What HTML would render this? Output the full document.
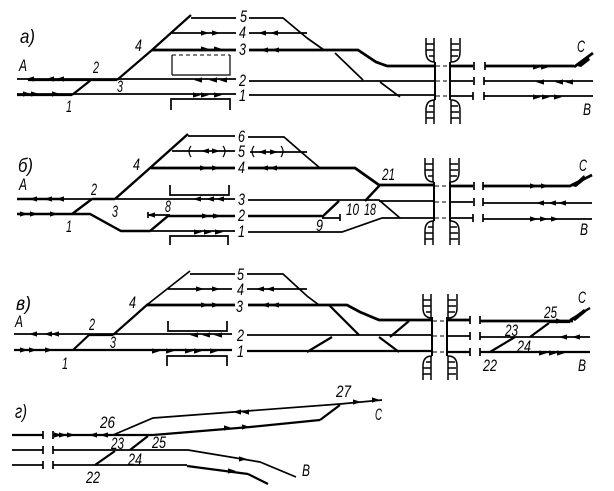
<!DOCTYPE html>
<html><head><meta charset="utf-8"><style>
html,body{margin:0;padding:0;background:#fff}
svg{display:block}
text{font-family:"Liberation Sans",sans-serif;font-style:italic;font-size:16.5px;fill:#000}
.a{stroke:#000;stroke-width:1.7;fill:none}
.b{stroke:#000;stroke-width:2.8;fill:none}
.c{stroke:#000;stroke-width:1.2;fill:none}
.d{stroke:#000;stroke-width:1.1;fill:none;stroke-dasharray:4 3}
</style></head><body>
<svg width="614" height="491" viewBox="0 0 614 491" xmlns="http://www.w3.org/2000/svg">
<defs>
<path id="r" d="M-4,-2.6L4,0L-4,2.6Z"/>
<path id="l" d="M4,-2.6L-4,0L4,2.6Z"/>
<g id="ut" fill="none" stroke="#000" stroke-width="1.5">
<path d="M-9,0V14Q-9,24 0,24"/><path d="M-9,6H-1M-9,12H-1M-6,18H-1M-1,0V24"/>
<path d="M16,0V24M16,24Q25,24 25,14V0M16,6H24M16,12H24M16,18H23"/>
</g>
<g id="dt" fill="none" stroke="#000" stroke-width="1.5">
<path d="M-9,24V10Q-9,0 0,0"/><path d="M-9,18H-1M-9,12H-1M-6,6H-1M-1,0V24"/>
<path d="M16,0V24M16,0Q25,0 25,10V24M16,18H24M16,12H24M16,6H23"/>
</g>
</defs>

<!-- a -->
<g>
<path class="a" d="M191,18H236M249,18H283L307,38M172,33H236M249,33H307M307,38L324,50"/>
<path class="b" d="M152,50H236M249,50H358L376,62L387,66H435M451,66H473M485,66H574M574,67L593,53"/>
<path class="b" style="stroke-width:2.2" d="M28,80H117M17,95H72M72,95L91,80M117,80L152,50L191,15"/>
<path class="a" d="M17,79H236M249,81H435M451,81H473M484,81H593M17,94H236M249,95H435M451,96H473M484,96H593"/>
<path class="a" d="M335,53L363,80M380,82L400,97" />
<path class="a" d="M474,62V70M474,77V85M473,92V100M485,62V70M484,77V85M484,92V100"/>
<path class="c" d="M172,75V55M172,75H230V55"/><path class="d" d="M172,55H230"/>
<path class="a" d="M171,110V99H230V110"/>
<path class="a" style="stroke-width:2" d="M435,62V100M450,62V100"/>
<path class="d" d="M436,66H449M436,81H449M436,96H449"/>
<use href="#ut" x="435" y="38"/><use href="#dt" x="435" y="100"/>
<g>
<use href="#l" x="30" y="79"/><use href="#l" x="50" y="79"/><use href="#l" x="60" y="79"/>
<use href="#r" x="27" y="94"/><use href="#r" x="35" y="94"/><use href="#r" x="56" y="94"/>
<use href="#r" x="205" y="33"/><use href="#r" x="216" y="33"/><use href="#l" x="262" y="33"/><use href="#l" x="274" y="33"/>
<use href="#r" x="205" y="49"/><use href="#r" x="218" y="49"/><use href="#l" x="264" y="50"/><use href="#l" x="275" y="50"/>
<use href="#l" x="198" y="80"/><use href="#l" x="213" y="80"/><use href="#l" x="223" y="80"/>
<use href="#r" x="197" y="95"/><use href="#r" x="205" y="95"/><use href="#r" x="218" y="95"/>
<use href="#r" x="537" y="67"/><use href="#r" x="545" y="67"/>
<use href="#l" x="540" y="82"/><use href="#l" x="559" y="82"/><use href="#l" x="569" y="82"/>
<use href="#r" x="537" y="97"/><use href="#r" x="546" y="97"/><use href="#r" x="558" y="97"/>
<path d="M577,66L588,56L590,60L581,67Z"/>
</g>
<text x="20" y="43" textLength="15" lengthAdjust="spacingAndGlyphs" style="font-size:19px">а)</text>
<text x="19" y="71" textLength="8" lengthAdjust="spacingAndGlyphs">А</text>
<text x="93" y="73" textLength="6" lengthAdjust="spacingAndGlyphs">2</text>
<text x="117" y="92" textLength="6" lengthAdjust="spacingAndGlyphs">3</text>
<text x="66" y="112" textLength="6" lengthAdjust="spacingAndGlyphs">1</text>
<text x="135" y="51" textLength="7" lengthAdjust="spacingAndGlyphs">4</text>
<text x="240" y="22" textLength="7" lengthAdjust="spacingAndGlyphs">5</text>
<text x="239" y="38" textLength="7" lengthAdjust="spacingAndGlyphs">4</text>
<text x="239" y="55" textLength="7" lengthAdjust="spacingAndGlyphs">3</text>
<text x="239" y="86" textLength="7" lengthAdjust="spacingAndGlyphs">2</text>
<text x="239" y="101" textLength="7" lengthAdjust="spacingAndGlyphs">1</text>
<text x="577" y="52" textLength="8" lengthAdjust="spacingAndGlyphs">С</text>
<text x="583" y="115" textLength="8" lengthAdjust="spacingAndGlyphs">В</text>
</g>

<!-- b -->
<g>
<path class="a" d="M188,136H235M248,137H284L307,157L320,168M172,151H235M250,152H307"/>
<path class="b" d="M151,168H235M248,168H355L379,185H435M451,186H473M483,186H570L592,175"/>
<path class="a" d="M17,199H235M248,200H379L400,218M379,201H435M451,202H473M483,203H592"/>
<path class="b" style="stroke-width:2.4" d="M17,214H90L121,231H150L168,216H235M248,216H322M322,217L339,201M92,199H115M72,214L92,199M115,199L150,168L188,134M380,185L365,201M17,199H60"/>
<path class="a" d="M148,215H170M322,218H340M121,231H235M248,232H342L382,218H435M451,218H473M483,219H592"/>
<path class="a" d="M148,212V218M340,214V221M474,182V190M474,198V206M473,214V222M483,182V190M483,198V206M483,214V222"/>
<path class="a" d="M170,185V195H229V185M170,245V236H228V245"/>
<path class="c" d="M191,146Q187,151 191,157M223,146Q227,151 223,157M254,146Q250,151 254,157M281,146Q285,151 281,157"/>
<path class="a" style="stroke-width:2" d="M434,182V221M450,182V221"/>
<path class="d" d="M435,186H449M435,202H449M435,218H449"/>
<use href="#ut" x="434" y="158"/><use href="#dt" x="434" y="221"/>
<g>
<use href="#r" x="24" y="214"/><use href="#r" x="34" y="214"/><use href="#r" x="54" y="214"/>
<use href="#l" x="33" y="199"/><use href="#l" x="48" y="199"/><use href="#l" x="60" y="199"/>
<use href="#l" x="205" y="151"/><use href="#r" x="216" y="151"/><use href="#l" x="262" y="152"/><use href="#r" x="274" y="152"/>
<use href="#r" x="204" y="168"/><use href="#r" x="216" y="168"/><use href="#l" x="264" y="168"/><use href="#l" x="273" y="168"/>
<use href="#l" x="197" y="199"/><use href="#l" x="210" y="199"/><use href="#l" x="220" y="199"/>
<use href="#r" x="206" y="216"/><use href="#r" x="217" y="216"/><use href="#l" x="151" y="215"/>
<use href="#r" x="198" y="232"/><use href="#r" x="208" y="232"/><use href="#r" x="219" y="232"/>
<use href="#r" x="534" y="186"/><use href="#r" x="545" y="186"/>
<use href="#l" x="540" y="203"/><use href="#l" x="552" y="203"/><use href="#l" x="562" y="203"/>
<use href="#r" x="534" y="219"/><use href="#r" x="544" y="219"/><use href="#r" x="555" y="219"/>
<path d="M572,186L584,175L586,179L576,187Z"/>
</g>
<text x="18" y="172" textLength="15" lengthAdjust="spacingAndGlyphs" style="font-size:19px">б)</text>
<text x="19" y="190" textLength="8" lengthAdjust="spacingAndGlyphs">А</text>
<text x="91" y="195" textLength="6" lengthAdjust="spacingAndGlyphs">2</text>
<text x="112" y="217" textLength="6" lengthAdjust="spacingAndGlyphs">3</text>
<text x="66" y="232" textLength="6" lengthAdjust="spacingAndGlyphs">1</text>
<text x="133" y="170" textLength="7" lengthAdjust="spacingAndGlyphs">4</text>
<text x="165" y="212" textLength="6" lengthAdjust="spacingAndGlyphs">8</text>
<text x="238" y="142" textLength="7" lengthAdjust="spacingAndGlyphs">6</text>
<text x="238" y="157" textLength="7" lengthAdjust="spacingAndGlyphs">5</text>
<text x="238" y="173" textLength="7" lengthAdjust="spacingAndGlyphs">4</text>
<text x="238" y="205" textLength="7" lengthAdjust="spacingAndGlyphs">3</text>
<text x="238" y="221" textLength="7" lengthAdjust="spacingAndGlyphs">2</text>
<text x="238" y="237" textLength="7" lengthAdjust="spacingAndGlyphs">1</text>
<text x="316" y="231" textLength="7" lengthAdjust="spacingAndGlyphs">9</text>
<text x="346" y="215" textLength="13" lengthAdjust="spacingAndGlyphs">10</text>
<text x="364" y="215" textLength="12" lengthAdjust="spacingAndGlyphs">18</text>
<text x="382" y="180" textLength="13" lengthAdjust="spacingAndGlyphs">21</text>
<text x="579" y="171" textLength="8" lengthAdjust="spacingAndGlyphs">С</text>
<text x="580" y="235" textLength="8" lengthAdjust="spacingAndGlyphs">В</text>
</g>

<!-- v -->
<g>
<path class="a" d="M190,274H235M247,274H283L307,296L319,305M168,289H232M247,289H307"/>
<path class="b" d="M147,305H235M248,305H347L360,312L379,320H432M447,320H470M480,321H573"/>
<path class="b" style="stroke-width:2.2" d="M73,350L89,335M89,335H113M113,335L148,304M329,305L359,335M379,337L399,352M307,352L332,337M390,337L409,321M490,352L515,337M530,337L549,323"/>
<path class="a" d="M148,304L190,271M14,334H232M247,335H432M447,336H470M480,337H590"/>
<path class="b" style="stroke-width:2.2" d="M14,350H232M247,351H432M447,352H470M480,352H590M549,322H570M570,320L590,308"/>
<path class="a" d="M470,316V324M470,332V340M470,348V356M480,316V324M480,332V340M480,348V356"/>
<path class="a" d="M168,321V331H227V321M167,366V356H227V366"/>
<path class="a" style="stroke-width:2" d="M432,317V356M447,317V356"/>
<path class="d" d="M433,321H446M433,336H446M433,352H446"/>
<use href="#ut" x="432" y="294"/><use href="#dt" x="432" y="356"/>
<g>
<use href="#l" x="33" y="334"/><use href="#l" x="48" y="334"/><use href="#l" x="55" y="334"/>
<use href="#r" x="24" y="350"/><use href="#r" x="33" y="350"/><use href="#r" x="49" y="350"/>
<use href="#r" x="200" y="289"/><use href="#r" x="216" y="289"/><use href="#l" x="260" y="289"/><use href="#l" x="270" y="289"/>
<use href="#r" x="205" y="305"/><use href="#r" x="216" y="305"/><use href="#l" x="265" y="305"/><use href="#l" x="275" y="305"/>
<use href="#l" x="194" y="335"/><use href="#l" x="206" y="335"/><use href="#l" x="218" y="335"/>
<use href="#r" x="156" y="351"/><use href="#r" x="170" y="351"/><use href="#r" x="189" y="351"/><use href="#r" x="198" y="351"/><use href="#r" x="214" y="351"/>
<use href="#r" x="560" y="321"/>
<use href="#l" x="563" y="337"/><use href="#l" x="576" y="337"/>
<use href="#r" x="543" y="353"/><use href="#r" x="553" y="353"/><use href="#r" x="561" y="353"/>
<path d="M571,319L584,309L586,312L575,321Z"/>
</g>
<text x="16" y="310" textLength="15" lengthAdjust="spacingAndGlyphs" style="font-size:19px">в)</text>
<text x="15" y="327" textLength="8" lengthAdjust="spacingAndGlyphs">А</text>
<text x="89" y="330" textLength="6" lengthAdjust="spacingAndGlyphs">2</text>
<text x="110" y="348" textLength="6" lengthAdjust="spacingAndGlyphs">3</text>
<text x="62" y="369" textLength="6" lengthAdjust="spacingAndGlyphs">1</text>
<text x="129" y="308" textLength="7" lengthAdjust="spacingAndGlyphs">4</text>
<text x="237" y="280" textLength="7" lengthAdjust="spacingAndGlyphs">5</text>
<text x="237" y="295" textLength="7" lengthAdjust="spacingAndGlyphs">4</text>
<text x="236" y="312" textLength="7" lengthAdjust="spacingAndGlyphs">3</text>
<text x="237" y="341" textLength="7" lengthAdjust="spacingAndGlyphs">2</text>
<text x="237" y="357" textLength="7" lengthAdjust="spacingAndGlyphs">1</text>
<text x="544" y="318" textLength="13" lengthAdjust="spacingAndGlyphs">25</text>
<text x="505" y="336" textLength="13" lengthAdjust="spacingAndGlyphs">23</text>
<text x="517" y="352" textLength="14" lengthAdjust="spacingAndGlyphs">24</text>
<text x="483" y="371" textLength="14" lengthAdjust="spacingAndGlyphs">22</text>
<text x="578" y="303" textLength="8" lengthAdjust="spacingAndGlyphs">С</text>
<text x="578" y="371" textLength="8" lengthAdjust="spacingAndGlyphs">В</text>
</g>

<!-- g -->
<g>
<path class="b" style="stroke-width:2.2" d="M12,435H43M53,435H153L250,427L320,420"/>
<path class="b" style="stroke-width:2.2" d="M320,420L340,405M95,465L115,451M130,450L148,436M187,466L248,474M248,474L268,484"/>
<path class="a" d="M113,435L153,418L340,404L382,400M12,450H43M53,450H188L260,462L296,477M12,465H43M53,465H187"/>
<path class="a" d="M43,431V439M43,446V454M43,461V469M53,431V439M53,446V454M53,461V469"/>
<g>
<use href="#r" x="58" y="435"/><use href="#r" x="63" y="435"/><use href="#r" x="71" y="435"/>
<use href="#l" x="93" y="435"/><use href="#l" x="104" y="435"/>
<use href="#l" x="237" y="412"/><use href="#l" x="245" y="412"/><use href="#r" x="228" y="428"/><use href="#r" x="246" y="427"/>
<use href="#r" x="243" y="459"/><use href="#r" x="232" y="471"/>
<use href="#r" x="357" y="402"/><use href="#r" x="376" y="400"/>
</g>
<text x="15" y="418" textLength="12" lengthAdjust="spacingAndGlyphs" style="font-size:19px">г)</text>
<text x="100" y="428" textLength="15" lengthAdjust="spacingAndGlyphs">26</text>
<text x="111" y="449" textLength="13" lengthAdjust="spacingAndGlyphs">23</text>
<text x="152" y="448" textLength="14" lengthAdjust="spacingAndGlyphs">25</text>
<text x="128" y="465" textLength="14" lengthAdjust="spacingAndGlyphs">24</text>
<text x="86" y="483" textLength="14" lengthAdjust="spacingAndGlyphs">22</text>
<text x="336" y="397" textLength="15" lengthAdjust="spacingAndGlyphs">27</text>
<text x="375" y="420" textLength="7" lengthAdjust="spacingAndGlyphs">С</text>
<text x="302" y="476" textLength="8" lengthAdjust="spacingAndGlyphs">В</text>
</g>
</svg>
</body></html>
